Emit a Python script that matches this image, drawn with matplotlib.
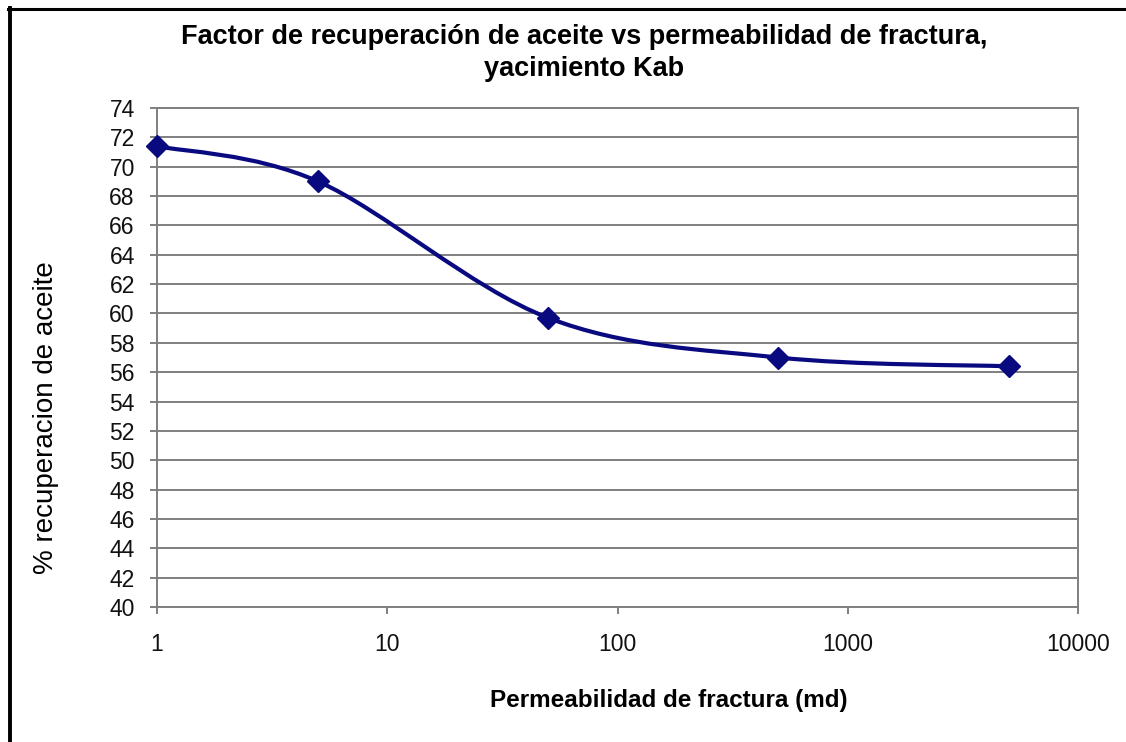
import numpy as np
import matplotlib
matplotlib.use('Agg')
import matplotlib.pyplot as plt
from matplotlib.path import Path
from matplotlib.patches import PathPatch
from matplotlib.lines import Line2D

plt.rcParams['font.family'] = ['Liberation Sans', 'DejaVu Sans']

# Datos: permeabilidad de fractura (md) y factor de recuperacion (%)
permeabilidad = [1, 5, 50, 500, 5000]
recuperacion = [71.4, 69.0, 59.7, 57.0, 56.4]
y_ticks = list(range(40, 75, 2))
x_ticks = [1, 10, 100, 1000, 10000]
x_tick_labels = ['1', '10', '100', '1000', '10000']

titulo = 'Factor de recuperación de aceite vs permeabilidad de fractura,\nyacimiento Kab'
etiqueta_x = 'Permeabilidad de fractura (md)'
etiqueta_y = '% recuperacion de aceite'

color_serie = '#0a0a80'
color_grid = '#7f7f7f'

fig = plt.figure(figsize=(11.26, 7.42), dpi=100)
ax = fig.add_axes([157 / 1126, 1 - 607 / 742, (1078 - 157) / 1126, (607 - 108) / 742])

ax.set_xscale('log')
ax.set_xlim(1, 10000)
ax.set_ylim(40, 74)

# Curva suavizada (bezier tipo Catmull-Rom en espacio log-x)
lx = np.log10(permeabilidad)
yy = np.array(recuperacion, dtype=float)
n = len(lx)
verts = [(permeabilidad[0], yy[0])]
codes = [Path.MOVETO]
for i in range(n - 1):
    i0 = max(i - 1, 0)
    i3 = min(i + 2, n - 1)
    c1x = lx[i] + (lx[i + 1] - lx[i0]) / 6
    c1y = yy[i] + (yy[i + 1] - yy[i0]) / 6
    c2x = lx[i + 1] - (lx[i3] - lx[i]) / 6
    c2y = yy[i + 1] - (yy[i3] - yy[i]) / 6
    verts += [(10 ** c1x, c1y), (10 ** c2x, c2y), (permeabilidad[i + 1], yy[i + 1])]
    codes += [Path.CURVE4] * 3
curva = PathPatch(Path(verts, codes), facecolor='none', edgecolor=color_serie,
                  lw=3.0, zorder=3, clip_on=False)
ax.add_patch(curva)
ax.plot(permeabilidad, recuperacion, linestyle='none', marker='D', ms=11,
        color=color_serie, zorder=4, clip_on=False)

ax.set_yticks(y_ticks)
ax.set_xticks(x_ticks)
ax.set_xticklabels(x_tick_labels)
ax.xaxis.set_minor_locator(matplotlib.ticker.NullLocator())
ax.yaxis.grid(True, color=color_grid, lw=1.4)
ax.set_axisbelow(True)
for s in ax.spines.values():
    s.set_color(color_grid)
    s.set_linewidth(1.4)
ax.tick_params(axis='both', direction='out', length=5, width=1.4, color=color_grid,
               labelsize=16.5, labelcolor='#111111')
ax.tick_params(axis='y', pad=11)
ax.tick_params(axis='x', pad=14)

fig.text(0.519, 1 - 53 / 742, titulo, ha='center', va='center', fontsize=19.5,
         fontweight='bold', linespacing=1.25)
fig.text(669 / 1126, 1 - 701 / 742, etiqueta_x, ha='center', va='center',
         fontsize=17.5, fontweight='bold')
fig.text(46 / 1126, 1 - 418 / 742, etiqueta_y, ha='center', va='center',
         fontsize=20, rotation=90)

# Marco exterior (borde superior e izquierdo)
fig.add_artist(Line2D([8 / 1126, 1], [1 - 8.5 / 742, 1 - 8.5 / 742],
                      transform=fig.transFigure, color='black', lw=2.2))
fig.add_artist(Line2D([9.5 / 1126, 9.5 / 1126], [0, 1 - 7.5 / 742],
                      transform=fig.transFigure, color='black', lw=2.8))

fig.savefig('out.png', dpi=100)
